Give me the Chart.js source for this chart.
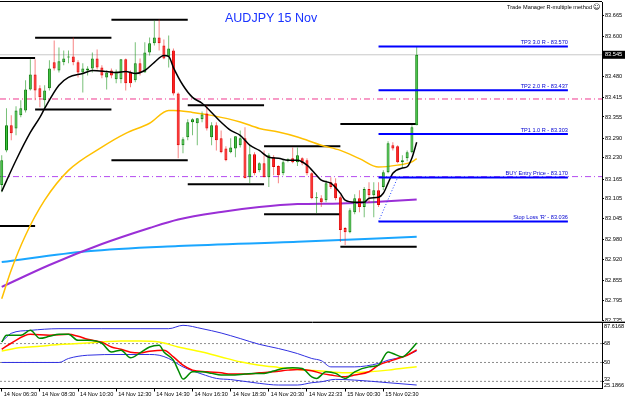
<!DOCTYPE html>
<html>
<head>
<meta charset="utf-8">
<script src="https://cdn.jsdelivr.net/npm/chart.js@4.4.1/dist/chart.umd.min.js"></script>
<style>
  body { margin: 0; background: #fff; width: 625px; height: 399px; overflow: hidden; position: relative; }
  canvas { position: absolute; left: 0; }
  #main { top: 0; }
  #tdi { top: 312px; }
  #title { position: absolute; left: 225px; top: 11px; font: 12.5px "Liberation Sans", Arial, sans-serif; line-height: 14px; color: #1a33ff; z-index: 2; }
</style>
</head>
<body>
<canvas id="main" width="625" height="330"></canvas>
<canvas id="tdi" width="625" height="87"></canvas>
<div id="title">AUDJPY 15 Nov</div>
<script>
// M15 bars, bar 0 = 14 Nov 06:30
const opens = [
  83.147, 83.253, 83.330, 83.320, 83.360, 83.375, 83.439, 83.485, 83.443, 83.406,
  83.443, 83.522, 83.497, 83.522, 83.537, 83.540, 83.522, 83.491, 83.497, 83.503,
  83.534, 83.506, 83.476, 83.497, 83.470, 83.470, 83.531, 83.491, 83.467, 83.519,
  83.491, 83.552, 83.580, 83.598, 83.573, 83.540, 83.558, 83.427, 83.269, 83.293,
  83.339, 83.336, 83.348, 83.366, 83.293, 83.330, 83.290, 83.259, 83.247, 83.259,
  83.269, 83.290, 83.171, 83.241, 83.192, 83.214, 83.171, 83.232, 83.205, 83.183,
  83.220, 83.229, 83.217, 83.229, 83.223, 83.183, 83.107, 83.107, 83.101, 83.156,
  83.153, 83.110, 83.016, 83.003, 83.064, 83.107, 83.080, 83.135, 83.116, 83.131,
  83.141, 83.186, 83.269, 83.266, 83.217, 83.229, 83.247, 83.330
];
const highs = [
  83.238, 83.382, 83.360, 83.388, 83.406, 83.467, 83.531, 83.531, 83.452, 83.452,
  83.528, 83.589, 83.567, 83.558, 83.558, 83.598, 83.528, 83.519, 83.510, 83.552,
  83.561, 83.513, 83.497, 83.503, 83.500, 83.531, 83.534, 83.497, 83.583, 83.534,
  83.583, 83.598, 83.650, 83.653, 83.592, 83.604, 83.564, 83.430, 83.293, 83.348,
  83.351, 83.351, 83.372, 83.391, 83.339, 83.339, 83.314, 83.266, 83.290, 83.296,
  83.314, 83.324, 83.269, 83.247, 83.217, 83.253, 83.244, 83.238, 83.208, 83.226,
  83.229, 83.262, 83.262, 83.232, 83.229, 83.186, 83.125, 83.116, 83.162, 83.171,
  83.168, 83.116, 83.019, 83.076, 83.119, 83.131, 83.141, 83.156, 83.156, 83.156,
  83.192, 83.281, 83.278, 83.269, 83.238, 83.253, 83.330, 83.570
];
const lows = [
  83.125, 83.247, 83.284, 83.299, 83.354, 83.369, 83.436, 83.406, 83.385, 83.382,
  83.436, 83.497, 83.491, 83.513, 83.519, 83.513, 83.476, 83.430, 83.482, 83.491,
  83.500, 83.473, 83.439, 83.473, 83.458, 83.458, 83.436, 83.446, 83.461, 83.482,
  83.491, 83.543, 83.573, 83.558, 83.531, 83.506, 83.421, 83.229, 83.244, 83.284,
  83.299, 83.269, 83.339, 83.314, 83.269, 83.253, 83.244, 83.220, 83.244, 83.232,
  83.262, 83.168, 83.153, 83.177, 83.186, 83.171, 83.141, 83.177, 83.153, 83.177,
  83.217, 83.214, 83.205, 83.208, 83.177, 83.104, 83.061, 83.080, 83.095, 83.135,
  83.101, 82.973, 82.964, 83.000, 83.058, 83.064, 83.049, 83.092, 83.049, 83.080,
  83.131, 83.183, 83.253, 83.214, 83.199, 83.220, 83.244, 83.330
];
const closes = [
  83.223, 83.330, 83.305, 83.375, 83.382, 83.439, 83.485, 83.436, 83.415, 83.436,
  83.503, 83.503, 83.525, 83.534, 83.538, 83.522, 83.491, 83.503, 83.503, 83.534,
  83.506, 83.482, 83.491, 83.482, 83.494, 83.531, 83.458, 83.458, 83.519, 83.491,
  83.552, 83.580, 83.598, 83.580, 83.534, 83.564, 83.427, 83.269, 83.287, 83.339,
  83.348, 83.351, 83.363, 83.320, 83.330, 83.284, 83.247, 83.223, 83.262, 83.296,
  83.290, 83.168, 83.241, 83.183, 83.214, 83.171, 83.238, 83.202, 83.177, 83.217,
  83.226, 83.217, 83.238, 83.214, 83.183, 83.107, 83.110, 83.095, 83.153, 83.141,
  83.107, 83.010, 83.003, 83.070, 83.107, 83.080, 83.135, 83.116, 83.131, 83.086,
  83.186, 83.275, 83.259, 83.217, 83.223, 83.247, 83.324, 83.545
];

// moving averages, read at bar numbers
const fastBars = [0, 3, 6, 8, 9, 12, 14, 17, 19, 22, 24, 26, 28, 30, 32, 34, 35, 36, 38, 40, 42, 44, 46, 48, 50, 52, 54, 56, 58, 60, 62, 64, 66, 67, 69, 71, 72, 74, 76, 77, 79, 80, 81, 82, 84, 85, 86, 87];
const fastMa = [83.128, 83.223, 83.308, 83.354, 83.381, 83.452, 83.476, 83.488, 83.497, 83.494, 83.491, 83.494, 83.488, 83.497, 83.522, 83.543, 83.540, 83.506, 83.452, 83.415, 83.397, 83.369, 83.339, 83.314, 83.299, 83.269, 83.253, 83.232, 83.229, 83.223, 83.223, 83.208, 83.177, 83.162, 83.153, 83.122, 83.101, 83.095, 83.095, 83.107, 83.110, 83.122, 83.153, 83.183, 83.199, 83.203, 83.230, 83.278];
const midBars = [0, 2, 5, 9, 14, 21, 26, 31, 35, 36, 40, 44, 50, 54, 58, 62, 67, 71, 75, 79, 83, 86, 87];
const midMa = [82.800, 82.888, 82.994, 83.101, 83.192, 83.263, 83.305, 83.336, 83.375, 83.375, 83.369, 83.360, 83.340, 83.320, 83.309, 83.294, 83.269, 83.253, 83.228, 83.202, 83.208, 83.218, 83.228];
const slowBars = [0, 10, 21, 31, 37, 46, 54, 62, 71, 79, 87];
const slowMa = [82.836, 82.903, 82.967, 83.016, 83.042, 83.065, 83.080, 83.089, 83.091, 83.096, 83.103];
const longBars = [0, 18, 37, 62, 87];
const longMa = [82.912, 82.945, 82.961, 82.974, 82.989];

// 4-hour high / low boxes
const boxEdges = [-0.4, 7, 23, 39, 55, 71, 87];
const boxHighs = [83.535, 83.597, 83.652, 83.391, 83.266, 83.334];
const boxLows = [83.022, 83.378, 83.223, 83.150, 83.058, 82.959];

// trade manager
const tradeNames = ["TP3 3.0 R", "TP2 2.0 R", "TP1 1.0 R", "BUY Entry Price", "Stop Loss 'R'"];
const tradeLevels = [83.570, 83.437, 83.303, 83.170, 83.036];
const tradeFrom = 79;
const tradeTo = 118.7;
const riskBars = [79, 83];
const currentPrice = 83.545;
const pinkLevel = 83.410;
const violetLevel = 83.173;

const priceTicks = [83.665, 83.600, 83.480, 83.415, 83.355, 83.290, 83.230, 83.165, 83.105, 83.045, 82.980, 82.920, 82.855, 82.795, 82.735];
const timeTickBars = [0, 8, 16, 24, 32, 40, 48, 56, 64, 72, 80];
const timeTickLabels = ["14 Nov 06:30", "14 Nov 08:30", "14 Nov 10:30", "14 Nov 12:30", "14 Nov 14:30", "14 Nov 16:30", "14 Nov 18:30", "14 Nov 20:30", "14 Nov 22:33", "15 Nov 00:30", "15 Nov 02:30"];

// TDI sub window
const rsiBars = [0, 1, 4, 6, 8, 10, 12, 14, 16, 18, 21, 23, 25, 27, 29, 31, 33, 34, 36, 37, 38, 40, 42, 44, 46, 48, 51, 53, 55, 57, 59, 61, 63, 65, 66, 68, 70, 72, 74, 77, 79, 81, 82, 84, 85, 87];
const rsiVals = [69.5, 75.9, 75.9, 80.6, 73.0, 74.9, 76.8, 76.8, 71.1, 71.1, 68.3, 60.0, 61.7, 54.4, 59.1, 64.8, 66.4, 60.0, 52.2, 42.7, 34.2, 41.1, 41.1, 39.6, 38.0, 38.0, 38.9, 39.6, 39.6, 41.8, 44.3, 44.9, 44.3, 36.3, 34.8, 41.1, 39.6, 34.8, 41.1, 45.8, 47.4, 60.0, 58.5, 55.3, 58.5, 68.5];
const sigBars = [0, 2, 6, 10, 14, 16, 18, 21, 23, 25, 27, 29, 31, 34, 36, 38, 40, 43, 46, 48, 51, 54, 57, 60, 62, 65, 67, 69, 72, 74, 77, 79, 82, 85, 87];
const sigVals = [62.6, 68.3, 76.8, 75.9, 76.8, 74.9, 72.1, 69.2, 64.8, 62.6, 59.8, 59.1, 60.7, 61.7, 55.3, 47.4, 42.7, 41.1, 40.1, 38.9, 38.9, 40.1, 41.1, 42.7, 43.4, 42.2, 39.6, 38.0, 36.3, 38.0, 41.1, 47.4, 52.2, 56.9, 62.0];
const baseBars = [0, 4, 8, 12, 16, 21, 25, 29, 33, 37, 42, 46, 50, 54, 58, 62, 67, 72, 77, 81, 87];
const baseVals = [61.0, 64.2, 65.5, 67.1, 68.0, 69.5, 70.5, 70.5, 69.5, 64.8, 60.0, 55.3, 50.6, 47.4, 45.3, 43.4, 41.8, 40.1, 41.1, 42.7, 46.0];
const upBars = [0, 2, 6, 12, 21, 29, 35, 38, 42, 46, 50, 54, 58, 62, 65, 67, 69, 74, 79, 81, 84, 87];
const upVals = [69.5, 77.8, 80.6, 82.2, 82.2, 82.2, 82.2, 85.4, 82.2, 78.1, 72.8, 67.3, 63.3, 58.5, 53.8, 51.7, 45.8, 45.8, 49.1, 52.2, 55.3, 61.0];
const lowBars = [0, 12, 14, 18, 25, 31, 33, 35, 38, 42, 45, 48, 54, 58, 62, 65, 67, 70, 74, 81, 87];
const lowVals = [50.0, 50.0, 53.8, 56.9, 57.6, 57.6, 56.9, 53.8, 45.8, 38.9, 34.8, 33.7, 30.1, 28.5, 28.5, 30.7, 31.6, 33.9, 33.2, 30.7, 28.5];
const tdiLevels = [68, 50, 32];
const tdiAxisVals = [87.6168, 68, 50, 32, 25.1866];
const tdiAxisLabels = ["87.6168", "68", "50", "32", "25.1866"];

const X_MIN = -0.36, X_MAX = 125.85;
const Y_MIN = 82.732, Y_MAX = 83.7062;

Chart.defaults.font.family = '"Liberation Sans", Arial, sans-serif';

const pts = (xs, ys) => xs.map((x, k) => ({ x, y: ys[k] }));

function boxSegments(edges, levels) {
  const out = [];
  levels.forEach((v, k) => {
    out.push({ x: edges[k], y: v }, { x: edges[k + 1], y: v }, { x: edges[k + 1], y: null });
  });
  return out;
}

function curve(xs, ys, color, width, order) {
  return {
    type: "line", data: pts(xs, ys), borderColor: color, borderWidth: width,
    pointRadius: 0, cubicInterpolationMode: "monotone", order,
  };
}

function flat(y, color, dash, order, from = X_MIN, to = X_MAX, width = 1) {
  return {
    type: "line", data: [{ x: from, y }, { x: to, y }], borderColor: color,
    borderWidth: width, borderDash: dash, pointRadius: 0, order,
  };
}

const up = opens.map((o, i) => closes[i] >= o);

const mainDecor = {
  id: "mainDecor",
  afterDraw(chart) {
    const { ctx, chartArea: a, scales: { x, y } } = chart;
    ctx.save();
    ctx.lineWidth = 1;
    ctx.strokeStyle = "#000";
    ctx.beginPath(); ctx.moveTo(0, 1.5); ctx.lineTo(a.right, 1.5); ctx.stroke();
    ctx.strokeStyle = "#a8a8a8";
    ctx.beginPath(); ctx.moveTo(0, 321.5); ctx.lineTo(625, 321.5); ctx.stroke();

    ctx.font = '5.6px "Liberation Sans"';
    ctx.fillStyle = "#0000d0";
    ctx.textAlign = "right";
    ctx.textBaseline = "bottom";
    tradeNames.forEach((n, k) => {
      ctx.fillText(`${n} - ${tradeLevels[k].toFixed(3)}`, x.getPixelForValue(tradeTo), y.getPixelForValue(tradeLevels[k]) - 1);
    });

    const py = y.getPixelForValue(currentPrice);
    ctx.fillStyle = "#000";
    ctx.fillRect(a.right, py - 4, 625 - a.right, 8);
    ctx.fillStyle = "#fff";
    ctx.textAlign = "left";
    ctx.textBaseline = "middle";
    ctx.fillText(currentPrice.toFixed(3), a.right + 3, py);

    ctx.fillStyle = "#000";
    ctx.textAlign = "right";
    ctx.fillText("Trade Manager R-multiple method", 592, 7);
    ctx.font = '7px "DejaVu Sans"';
    ctx.textAlign = "left";
    ctx.fillText("\u263A", 593, 7);
    ctx.restore();
  },
};

new Chart(document.getElementById("main"), {
  type: "bar",
  data: {
    datasets: [
      flat(pinkLevel, "#f0388f", [6, 3, 1, 3], 20),
      flat(violetLevel, "#b44cf0", [6, 3, 1, 3], 20),
      flat(currentPrice, "#c8c8c8", [], 21),
      {
        type: "line", data: boxSegments(boxEdges, boxHighs), borderColor: "#000",
        borderWidth: 2, pointRadius: 0, spanGaps: false, order: 12,
      },
      {
        type: "line", data: boxSegments(boxEdges, boxLows), borderColor: "#000",
        borderWidth: 2, pointRadius: 0, spanGaps: false, order: 12,
      },
      curve(longBars, longMa, "#1aa6ff", 2, 11),
      curve(slowBars, slowMa, "#9a2fd6", 2, 10),
      curve(midBars, midMa, "#ffc000", 1.5, 9),
      {
        type: "bar",
        data: opens.map((o, i) => ({ x: i, y: [lows[i], highs[i]] })),
        backgroundColor: up.map((u) => (u ? "rgba(30,150,30,0.6)" : "rgba(240,30,30,0.55)")),
        borderWidth: 0, grouped: false, maxBarThickness: 1, order: 6,
      },
      {
        type: "bar",
        data: opens.map((o, i) => ({ x: i, y: [o, closes[i]] })),
        backgroundColor: up.map((u) => (u ? "#3ec43e" : "#ff1a1a")),
        borderColor: up.map((u) => (u ? "#0e7d0e" : "#e00000")),
        borderWidth: 1, borderSkipped: false, grouped: false,
        maxBarThickness: 3, minBarLength: 1, order: 5,
      },
      curve(fastBars, fastMa, "#000000", 1.5, 4),
      ...tradeLevels.map((v) => flat(v, "#0000ff", [], 3, tradeFrom, tradeTo, 2)),
      {
        type: "line",
        data: [{ x: riskBars[0], y: tradeLevels[4] }, { x: riskBars[1], y: tradeLevels[3] }],
        borderColor: "#2244ff", borderWidth: 1, borderDash: [1, 2], pointRadius: 0, order: 2,
      },
    ],
  },
  options: {
    responsive: false,
    animation: false,
    devicePixelRatio: 1,
    layout: { autoPadding: false, padding: { left: 0, right: 0, top: 2, bottom: 9 } },
    plugins: { legend: { display: false }, tooltip: { enabled: false } },
    scales: {
      x: { type: "linear", display: false, min: X_MIN, max: X_MAX, offset: false },
      y: {
        type: "linear", position: "right", min: Y_MIN, max: Y_MAX,
        afterBuildTicks: (s) => { s.ticks = priceTicks.map((v) => ({ value: v })); },
        afterFit: (s) => { s.width = 23; s.paddingTop = 0; s.paddingBottom = 0; },
        ticks: { font: { size: 5.6 }, color: "#000", padding: 1, autoSkip: false, callback: (v) => v.toFixed(3) },
        grid: { drawOnChartArea: false, tickLength: 2, color: "#000" },
        border: { color: "#000" },
      },
    },
  },
  plugins: [mainDecor],
});

const tdiDecor = {
  id: "tdiDecor",
  afterDraw(chart) {
    const { ctx, chartArea: a, scales: { y } } = chart;
    ctx.save();
    ctx.strokeStyle = "#000";
    ctx.lineWidth = 1;
    ctx.beginPath(); ctx.moveTo(0, a.top - 0.5); ctx.lineTo(625, a.top - 0.5); ctx.stroke();
    ctx.font = '5.6px "Liberation Sans"';
    ctx.fillStyle = "#000";
    ctx.textAlign = "left";
    ctx.textBaseline = "middle";
    tdiAxisVals.forEach((v, k) => {
      let py = y.getPixelForValue(v);
      if (k === 0) py += 3.5;
      if (k === tdiAxisVals.length - 1) py -= 3;
      if (k === 3) py -= 1.5;
      ctx.fillText(tdiAxisLabels[k], a.right + 2, py);
    });
    ctx.restore();
  },
};

new Chart(document.getElementById("tdi"), {
  type: "line",
  data: {
    datasets: [
      ...tdiLevels.map((v) => flat(v, "#8c8c8c", [2, 2], 10)),
      curve(upBars, upVals, "#3030e0", 1, 6),
      curve(lowBars, lowVals, "#3030e0", 1, 6),
      curve(baseBars, baseVals, "#ffff00", 1.5, 5),
      curve(sigBars, sigVals, "#ff0000", 1.5, 4),
      curve(rsiBars, rsiVals, "#008a00", 1.5, 3),
    ],
  },
  options: {
    responsive: false,
    animation: false,
    devicePixelRatio: 1,
    layout: { autoPadding: false, padding: { left: 0, right: 0, top: 11, bottom: 0 } },
    plugins: { legend: { display: false }, tooltip: { enabled: false } },
    scales: {
      x: {
        type: "linear", min: X_MIN, max: X_MAX, offset: false,
        afterBuildTicks: (s) => { s.ticks = timeTickBars.map((v) => ({ value: v })); },
        afterFit: (s) => { s.height = 10.5; s.paddingLeft = 0; s.paddingRight = 0; },
        ticks: {
          autoSkip: false, maxRotation: 0, align: "start", labelOffset: 2, padding: 0,
          font: { size: 5.6 }, color: "#000", callback: (v, k) => timeTickLabels[k],
        },
        grid: { drawOnChartArea: false, tickLength: 3, color: "#000" },
        border: { color: "#000" },
      },
      y: {
        type: "linear", position: "right", min: 25.1866, max: 87.6168,
        afterBuildTicks: (s) => { s.ticks = tdiLevels.map((v) => ({ value: v })); },
        afterFit: (s) => { s.width = 23; s.paddingTop = 0; s.paddingBottom = 0; },
        ticks: { display: false },
        grid: { drawOnChartArea: false, tickLength: 2, color: "#000" },
        border: { color: "#000" },
      },
    },
  },
  plugins: [tdiDecor],
});
</script>
</body>
</html>
